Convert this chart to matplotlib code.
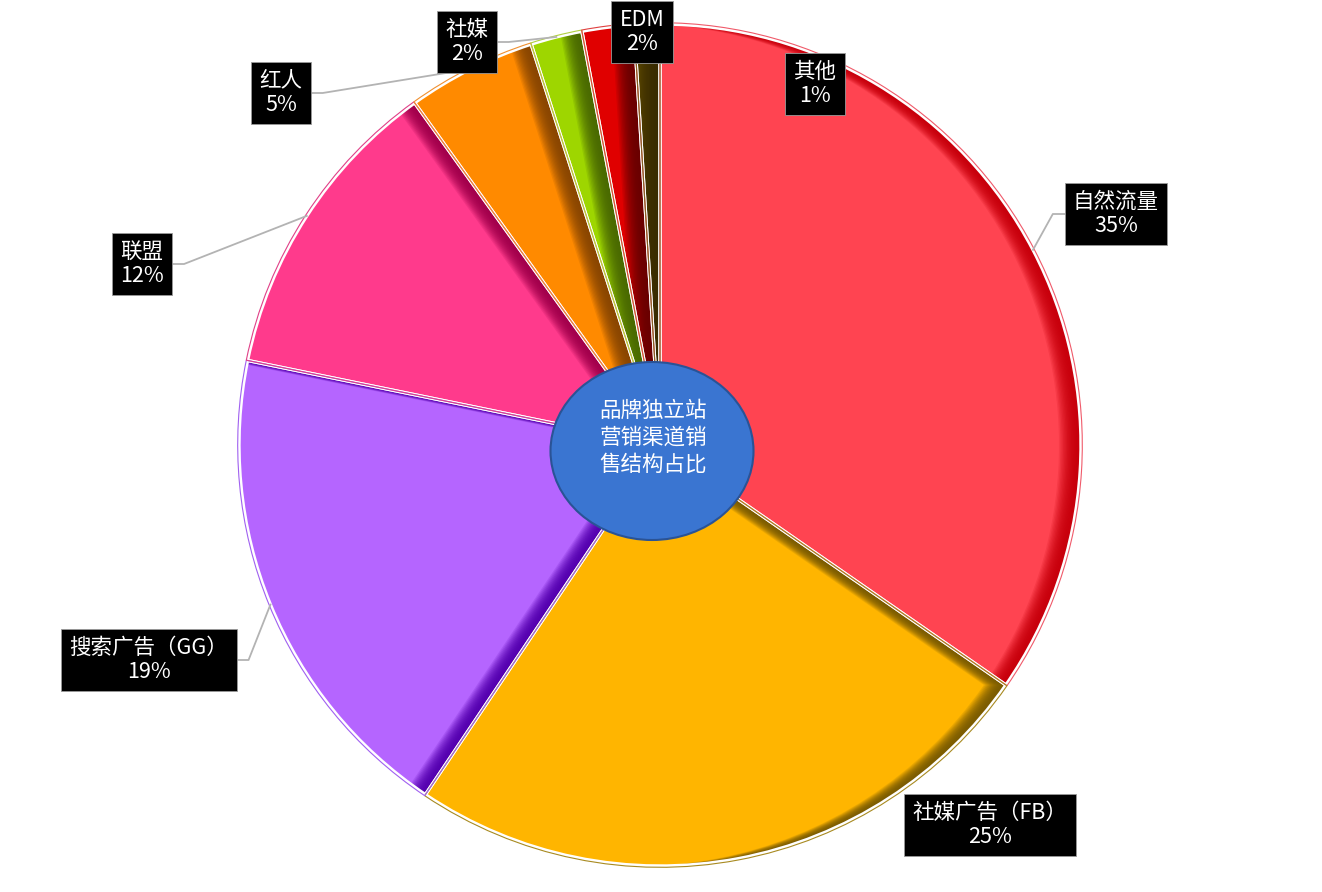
import numpy as np
import matplotlib
matplotlib.use('Agg')
import matplotlib.pyplot as plt
import matplotlib.colors as mcolors
from matplotlib.patches import Wedge, Ellipse

plt.rcParams['font.family'] = ['Noto Sans CJK SC', 'DejaVu Sans']

# data
channels = ['自然流量', '社媒广告（FB）', '搜索广告（GG）', '联盟', '红人', '社媒', 'EDM', '其他']
shares = [35, 25, 19, 12, 5, 2, 2, 1]
face_colors = ['#FF4451', '#FFB500', '#B565FF', '#FF3A8C', '#FF8A00', '#9ED600', '#E00000', '#5A4600']
dark_colors = ['#C8000C', '#7C5C00', '#5500B0', '#A3004C', '#8A4600', '#4A6A00', '#6A0000', '#3A2C00']
outline_colors = ['#F05A6A', '#A88A20', '#A060F0', '#E04088', '#F09030', '#B0D040', '#E04040', '#806020']
center_title = '品牌独立站\n营销渠道销\n售结构占比'

# layout (pixel units, measured from top-left)
W, H = 1322, 892
pie_center = (660, 445)
pie_radius = 421
label_pos = [(1116, 214), (990, 825), (149, 660), (142, 264),
             (281, 93), (467, 42), (642, 32), (815, 84)]
has_leader = [True, False, True, True, True, True, False, False]
bevel_shift = 22
bevel_steps = 16

fig = plt.figure(figsize=(W / 100, H / 100), dpi=100)
ax = fig.add_axes([0, 0, 1, 1])

cx, cy = pie_center[0], H - pie_center[1]
wedges, _ = ax.pie(shares, startangle=90, counterclock=False, center=(cx, cy),
                   radius=pie_radius, colors=dark_colors,
                   wedgeprops=dict(linewidth=0))
ax.set_xlim(0, W)
ax.set_ylim(0, H)
ax.set_aspect('auto')
ax.axis('off')

# bevel: layers shifted left, shading from dark edge into the face colour
for w, fc, dc, oc in zip(wedges, face_colors, dark_colors, outline_colors):
    w.set_zorder(1)
    c_dark = np.array(mcolors.to_rgb(dc))
    c_face = np.array(mcolors.to_rgb(fc))
    for k in range(1, bevel_steps + 1):
        t = k / bevel_steps
        col = c_dark + (c_face - c_dark) * t ** 2.5
        layer = Wedge((cx - bevel_shift * t, cy), pie_radius, w.theta1, w.theta2,
                      facecolor=col, edgecolor='none', zorder=1 + k * 0.01)
        ax.add_patch(layer)
        layer.set_clip_path(w)
    # white inner line and thin coloured outline
    ax.add_patch(Wedge((cx, cy), pie_radius, w.theta1, w.theta2, facecolor='none',
                       edgecolor='white', linewidth=2.4, zorder=2))
    ax.add_patch(Wedge((cx, cy), pie_radius + 1.3, w.theta1, w.theta2, facecolor='none',
                       edgecolor=oc, linewidth=0.8, zorder=2.1))

# centre ellipse with title
ax.add_patch(Ellipse((652, H - 451), 203, 178, facecolor='#3A75D1',
                     edgecolor='#2A5396', linewidth=1.5, zorder=5))
ax.text(653, H - 438, center_title, color='white', fontsize=15.5, ha='center',
        va='center', linespacing=1.3, zorder=6)

# labels
texts = []
for name, pct, pos in zip(channels, shares, label_pos):
    t = ax.text(pos[0], H - pos[1], '{}\n{}%'.format(name, pct), color='white',
                fontsize=15.5, ha='center', va='center', multialignment='center',
                linespacing=1.15, zorder=8,
                bbox=dict(boxstyle='square,pad=0.38', facecolor='black',
                          edgecolor='#9a9a9a', linewidth=0.6))
    texts.append(t)

fig.canvas.draw()
renderer = fig.canvas.get_renderer()
inv = ax.transData.inverted()
for w, t, lead in zip(wedges, texts, has_leader):
    if not lead:
        continue
    mid = np.deg2rad((w.theta1 + w.theta2) / 2)
    ex, ey = cx + pie_radius * np.cos(mid), cy + pie_radius * np.sin(mid)
    bb = t.get_bbox_patch().get_window_extent(renderer)
    (x0, y0), (x1, y1) = inv.transform([(bb.x0, bb.y0), (bb.x1, bb.y1)])
    ym = (y0 + y1) / 2
    if ex > (x0 + x1) / 2:
        bx, elbow = x1, x1 + 12
    else:
        bx, elbow = x0, x0 - 12
    ax.plot([bx, elbow, ex], [ym, ym, ey], color='#b3b3b3', linewidth=1.3, zorder=7)

fig.savefig('out.png', dpi=100, facecolor='white')
